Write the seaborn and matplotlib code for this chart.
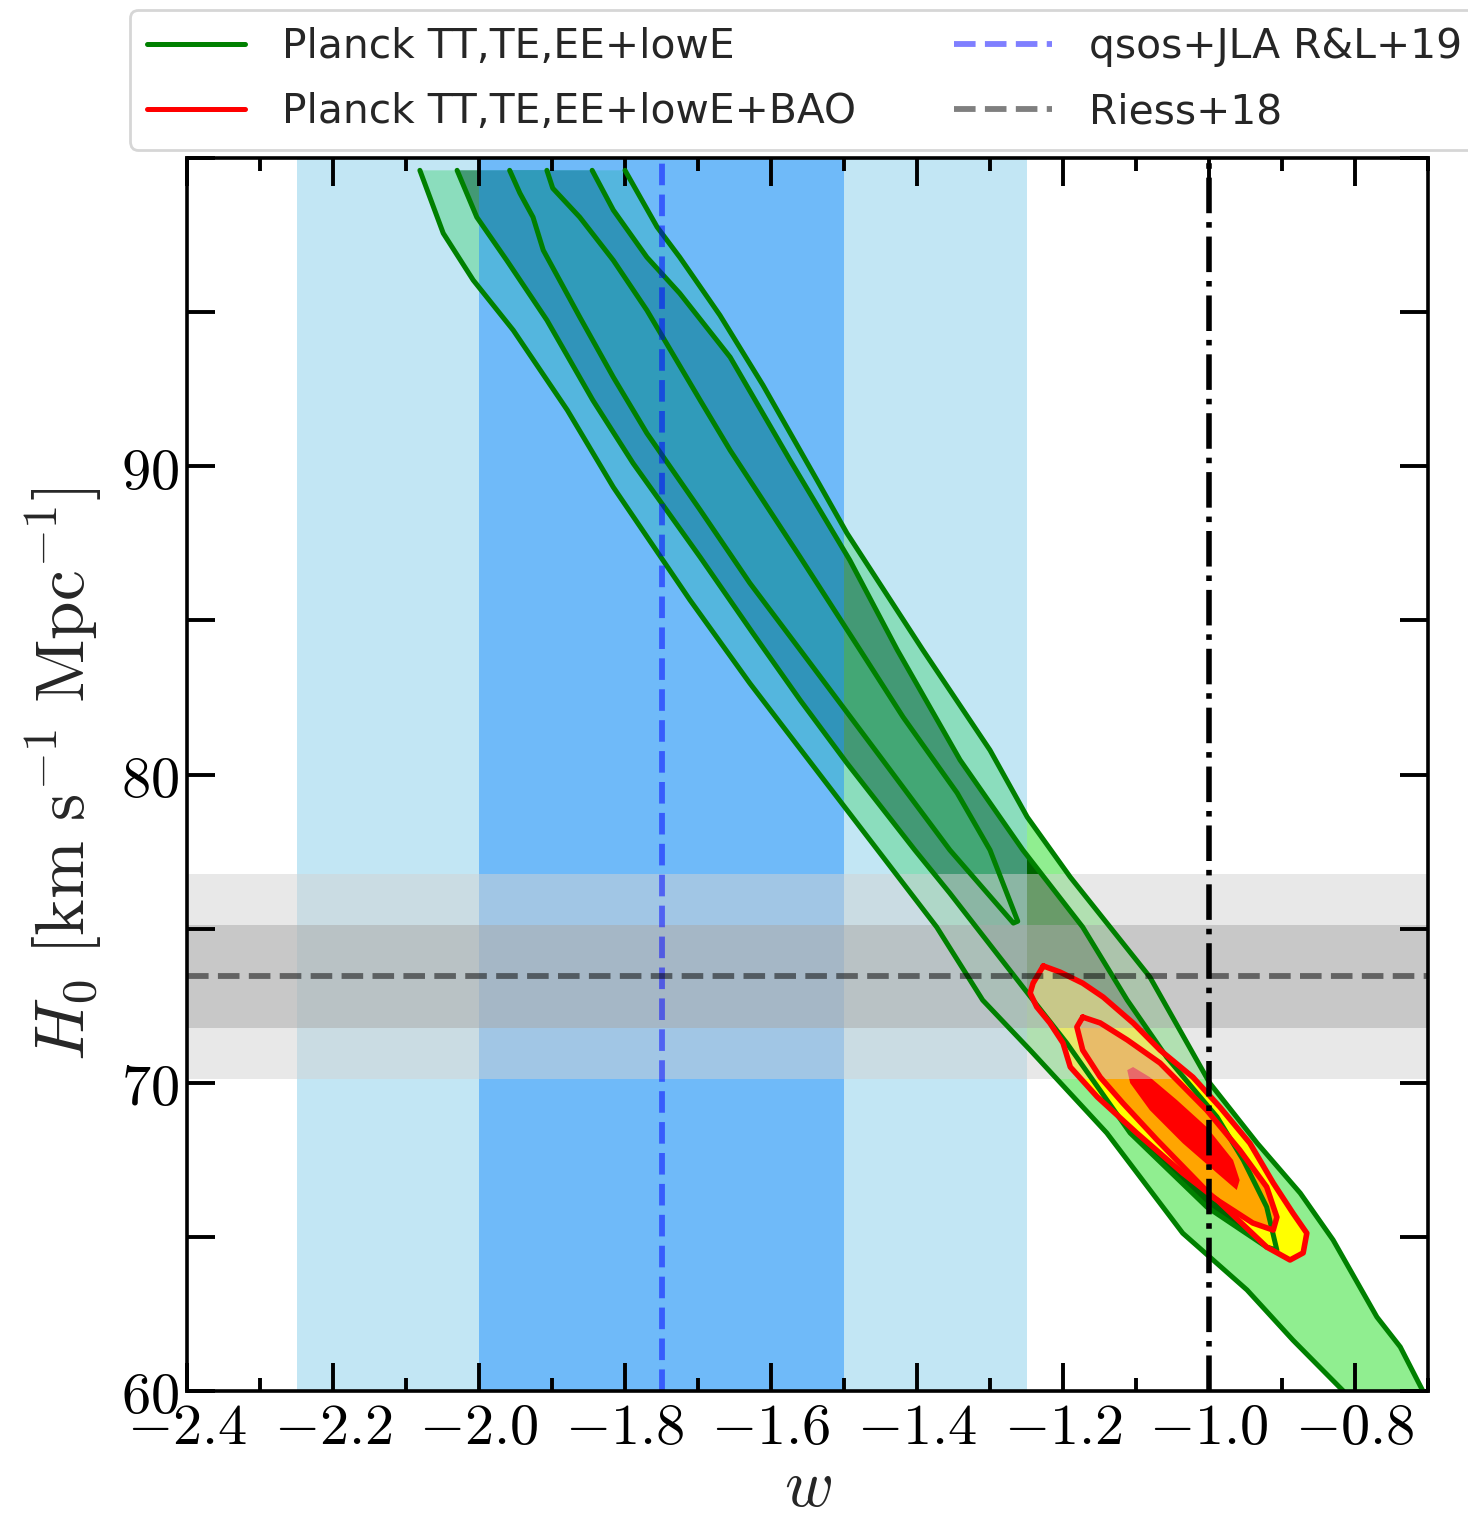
import numpy as np
import pandas as pd
import seaborn as sns
import matplotlib
matplotlib.use("Agg")
import matplotlib.pyplot as plt
from matplotlib.lines import Line2D
from matplotlib.ticker import MultipleLocator, FuncFormatter

# ---------------- data ----------------
# Planck TT,TE,EE+lowE : outer contour, lower-left edge (top -> bottom)
planck_outer_left_w = [-2.081, -2.049, -2.008, -1.953, -1.879, -1.816, -1.711, -1.629, -1.496,
                       -1.373, -1.310, -1.245, -1.140, -1.036, -0.948, -0.885, -0.816]
planck_outer_left_h = [99.6, 97.56, 96.04, 94.41, 91.82, 89.32, 85.66, 82.96, 78.85,
                       75.05, 72.68, 71.06, 68.37, 65.12, 63.28, 61.65, 60.0]
# outer contour, upper-right edge (top -> bottom)
planck_outer_right_w = [-1.800, -1.756, -1.725, -1.670, -1.611, -1.537, -1.496, -1.392, -1.300,
                        -1.249, -1.190, -1.081, -0.999, -0.934, -0.875, -0.830, -0.770, -0.738, -0.707]
planck_outer_right_h = [99.6, 97.76, 96.78, 94.90, 92.63, 89.55, 87.83, 84.04, 80.79,
                        78.62, 76.67, 73.43, 69.99, 68.04, 66.42, 64.90, 62.40, 61.43, 60.0]
# inner contour, lower-left edge (top -> tip)
planck_inner_left_w = [-2.030, -2.003, -1.962, -1.907, -1.844, -1.789, -1.697, -1.625, -1.560,
                       -1.496, -1.403, -1.355, -1.241, -1.195, -1.108, -1.003, -0.921, -0.907]
planck_inner_left_h = [99.6, 98.08, 96.68, 94.74, 92.14, 90.10, 87.05, 84.59, 82.41,
                       80.37, 77.55, 76.15, 72.68, 71.29, 68.37, 65.97, 64.67, 64.57]
# inner contour, upper-right edge (top -> tip)
planck_inner_right_w = [-1.845, -1.816, -1.770, -1.725, -1.656, -1.574, -1.492, -1.427, -1.341,
                        -1.255, -1.173, -1.112, -1.058, -0.989, -0.953, -0.921, -0.907]
planck_inner_right_h = [99.6, 98.31, 96.78, 95.61, 93.54, 90.20, 86.95, 84.04, 80.47,
                        77.55, 75.05, 72.68, 70.83, 68.89, 67.49, 65.97, 64.57]
# core tongue, left edge (top -> tip)
planck_core_left_w = [-1.958, -1.944, -1.926, -1.912, -1.862, -1.816, -1.770, -1.697, -1.629,
                      -1.560, -1.447, -1.355, -1.268, -1.262]
planck_core_left_h = [99.6, 98.86, 98.08, 97.01, 94.84, 92.89, 91.07, 88.58, 86.21,
                      84.04, 80.47, 77.55, 75.18, 75.24]
# core tongue, right edge (top -> tip)
planck_core_right_w = [-1.907, -1.899, -1.862, -1.816, -1.770, -1.697, -1.656, -1.560, -1.478,
                       -1.419, -1.345, -1.300, -1.262]
planck_core_right_h = [99.6, 99.02, 98.08, 96.68, 95.06, 92.14, 90.52, 87.05, 84.04,
                       81.86, 79.40, 77.55, 75.24]

# Planck TT,TE,EE+lowE+BAO : closed contours
bao_outer_w = [-1.227, -1.241, -1.245, -1.236, -1.218, -1.200, -1.190, -1.153, -1.099, -1.036,
               -0.989, -0.921, -0.889, -0.871, -0.866, -0.885, -0.912, -0.944, -0.985, -1.022,
               -1.067, -1.104, -1.145, -1.173, -1.204]
bao_outer_h = [73.79, 73.23, 72.91, 72.46, 71.94, 71.29, 70.51, 69.54, 68.37, 67.07,
               66.20, 64.67, 64.25, 64.48, 65.12, 65.77, 66.75, 68.04, 69.21, 70.18,
               71.06, 71.94, 72.78, 73.23, 73.59]
bao_mid_w = [-1.173, -1.181, -1.173, -1.149, -1.118, -1.071, -0.995, -0.940, -0.912, -0.907,
             -0.921, -0.958, -1.003, -1.067, -1.112, -1.149]
bao_mid_h = [72.13, 71.81, 71.06, 70.18, 69.34, 68.14, 66.29, 65.45, 65.22, 65.64,
             66.62, 67.82, 69.11, 70.64, 71.39, 71.94]
bao_core_w = [-1.112, -1.108, -1.081, -1.036, -0.989, -0.962, -0.958, -0.967, -1.003, -1.044,
              -1.081, -1.104]
bao_core_h = [70.41, 69.99, 69.11, 68.04, 67.07, 66.52, 66.84, 67.49, 68.56, 69.44,
              70.18, 70.51]

# qsos+JLA (Risaliti & Lusso 2019): w = -1.75 +- 0.25
qso_w, qso_sigma = -1.75, 0.25
# Riess+18: H0 = 73.45 +- 1.66
riess_h0, riess_sigma = 73.45, 1.66
lcdm_w = -1.0

legend_labels = ["Planck TT,TE,EE+lowE", "Planck TT,TE,EE+lowE+BAO",
                 "qsos+JLA R&L+19", "Riess+18"]

# ---------------- style ----------------
sns.set_theme(style="ticks")
plt.rcParams["font.family"] = ["DejaVu Sans"]
plt.rcParams["mathtext.fontset"] = "cm"

fig = plt.figure(figsize=(7.34, 7.59), dpi=200)
ax = fig.add_axes([187 / 1468, 1 - 1391 / 1518, (1428 - 187) / 1468, (1391 - 158) / 1518])
ax.set_axisbelow(False)

LW = 1.8
LW_RED = 2.0

def closed(w, h):
    return list(w) + [w[0]], list(h) + [h[0]]

# fills
outer_poly_w = planck_outer_left_w + planck_outer_right_w[::-1]
outer_poly_h = planck_outer_left_h + planck_outer_right_h[::-1]
ax.fill(outer_poly_w, outer_poly_h, color="lightgreen", lw=0, zorder=1)
inner_line_w = planck_inner_left_w + planck_inner_right_w[::-1]
inner_line_h = planck_inner_left_h + planck_inner_right_h[::-1]
ax.fill(inner_line_w, inner_line_h, color="darkgreen", lw=0, zorder=1)
core_line_w = planck_core_left_w + planck_core_right_w[::-1]
core_line_h = planck_core_left_h + planck_core_right_h[::-1]
ax.fill(core_line_w, core_line_h, color="green", lw=0, zorder=1)
ax.fill(bao_outer_w, bao_outer_h, color="yellow", lw=0, zorder=1.1)
ax.fill(bao_mid_w, bao_mid_h, color="orange", lw=0, zorder=1.1)
ax.fill(bao_core_w, bao_core_h, color="red", lw=0, zorder=1.1)

# bands
ax.axvspan(qso_w - 2 * qso_sigma, qso_w + 2 * qso_sigma, color="skyblue", alpha=0.5, lw=0, zorder=2)
ax.axvspan(qso_w - qso_sigma, qso_w + qso_sigma, color="dodgerblue", alpha=0.5, lw=0, zorder=2.1)
ax.axhspan(riess_h0 - 2 * riess_sigma, riess_h0 + 2 * riess_sigma, color="lightgrey", alpha=0.5, lw=0, zorder=2.2)
ax.axhspan(riess_h0 - riess_sigma, riess_h0 + riess_sigma, color="darkgrey", alpha=0.5, lw=0, zorder=2.3)

# contour outlines (seaborn lines, drawn in given order)
def outline(w, h, color, z, lw):
    sns.lineplot(x=w, y=h, sort=False, estimator=None, color=color, lw=lw, ax=ax, zorder=z)

outline(planck_outer_left_w, planck_outer_left_h, "green", 3, LW)
outline(planck_outer_right_w, planck_outer_right_h, "green", 3, LW)
outline(inner_line_w, inner_line_h, "green", 3, LW)
outline(core_line_w, core_line_h, "green", 3, LW)
outline(*closed(bao_outer_w, bao_outer_h), "red", 3.1, LW_RED)
outline(*closed(bao_mid_w, bao_mid_h), "red", 3.1, LW_RED)

# reference lines
ax.axvline(qso_w, color="blue", alpha=0.5, ls="--", lw=2.1, zorder=4)
ax.axhline(riess_h0, color="black", alpha=0.5, ls="--", lw=2.1, zorder=4)
ax.axvline(lcdm_w, color="black", ls="-.", lw=2.0, zorder=5)

# axes
ax.set_xlim(-2.4, -0.7)
ax.set_ylim(60, 100)
ax.xaxis.set_major_locator(MultipleLocator(0.2))
ax.xaxis.set_minor_locator(MultipleLocator(0.1))
ax.yaxis.set_major_locator(MultipleLocator(5))
ax.xaxis.set_major_formatter(FuncFormatter(lambda v, p: r"$%.1f$" % v))
ax.yaxis.set_major_formatter(FuncFormatter(
    lambda v, p: (r"$%d$" % round(v)) if (round(v) % 10 == 0 and v < 99) else ""))
ax.tick_params(which="both", direction="in", top=True, right=True, width=1.4, labelsize=21, colors="black")
ax.tick_params(which="major", length=10, pad=3)
ax.tick_params(which="minor", length=4.7)
for s in ax.spines.values():
    s.set_linewidth(1.3)
    s.set_color("black")
    s.set_zorder(6)
ax.set_xlabel(r"$w$", fontsize=24, labelpad=-1)
ax.set_ylabel(r"$H_0\ [\mathrm{km\ s^{-1}\ Mpc^{-1}}]$", fontsize=25, labelpad=6)

handles = [Line2D([], [], color="green", lw=LW),
           Line2D([], [], color="red", lw=LW),
           Line2D([], [], color="blue", alpha=0.5, ls="--", lw=2.1),
           Line2D([], [], color="black", alpha=0.5, ls="--", lw=2.1)]
fig.legend(handles, legend_labels, loc="upper left", bbox_to_anchor=(130 / 1468, 1 - 10 / 1518),
           ncol=2, fontsize=14.7, frameon=True, fancybox=True, handlelength=2.4,
           handletextpad=0.9, columnspacing=2.4, labelspacing=0.62, borderaxespad=0,
           borderpad=0.42, edgecolor="0.8")

fig.savefig("out.png", dpi=200)
